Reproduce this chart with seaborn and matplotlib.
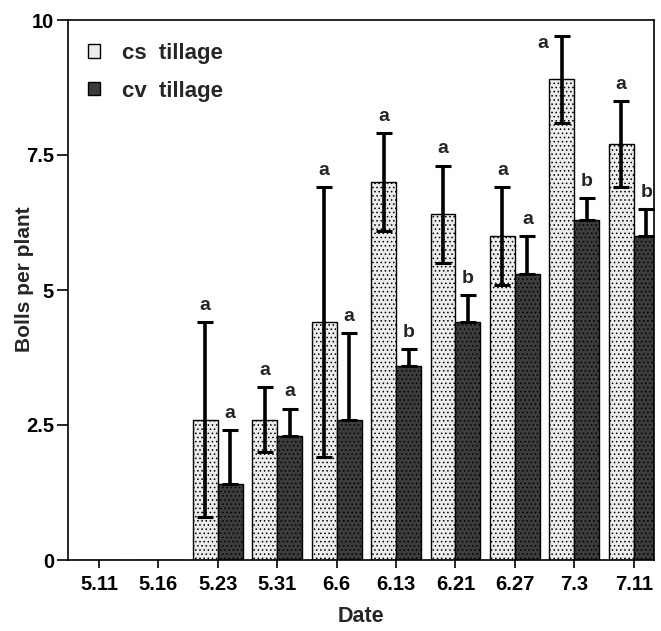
import seaborn as sns
import matplotlib.pyplot as plt
import pandas as pd

dates = ["5.11", "5.16", "5.23", "5.31", "6.6", "6.13", "6.21", "6.27", "7.3", "7.11"]
cs_mean = [0, 0, 2.6, 2.6, 4.4, 7.0, 6.4, 6.0, 8.9, 7.7]
cs_err = [0, 0, 1.8, 0.6, 2.5, 0.9, 0.9, 0.9, 0.8, 0.8]
cv_mean = [0, 0, 1.4, 2.3, 2.6, 3.6, 4.4, 5.3, 6.3, 6.0]
cv_err = [0, 0, 1.0, 0.5, 1.6, 0.3, 0.5, 0.7, 0.4, 0.5]
cs_letters = ["", "", "a", "a", "a", "a", "a", "a", "a", "a"]
cv_letters = ["", "", "a", "a", "a", "b", "b", "a", "b", "b"]
groups = ["cs  tillage", "cv  tillage"]

sns.set_theme(style="ticks")
plt.rcParams["font.family"] = ["Liberation Sans", "DejaVu Sans"]
plt.rcParams["font.weight"] = "bold"
plt.rcParams["hatch.linewidth"] = 0.6

df = pd.DataFrame({
    "date": dates * 2,
    "value": cs_mean + cv_mean,
    "tillage": [groups[0]] * len(dates) + [groups[1]] * len(dates),
})

fig = plt.figure(figsize=(6.61, 6.31), dpi=100)
ax = fig.add_axes([68 / 661, 71 / 631, 586 / 661, 540 / 631])

sns.barplot(data=df, x="date", y="value", hue="tillage", order=dates,
            hue_order=groups, palette=["#ececec", "#3c3c3c"], width=0.84,
            edgecolor="black", linewidth=1.0, ax=ax, errorbar=None)

for cont in ax.containers:
    for p in cont:
        p.set_hatch("....")

# error bars: cs both ways, cv upward only; letters above the caps
stats = [(cs_mean, cs_err, cs_letters, False), (cv_mean, cv_err, cv_letters, True)]
for cont, (means, errs, letters, up_only) in zip(ax.containers, stats):
    for p, m, e, lab in zip(cont, means, errs, letters):
        if m == 0:
            continue
        x = p.get_x() + p.get_width() / 2
        lower = 0 if up_only else e
        ax.errorbar(x, m, yerr=[[lower], [e]], fmt="none", ecolor="black",
                    elinewidth=2.6, capsize=5.5, capthick=2.2, zorder=5)
        if m + e > 9.3:
            # no room above: letter sits left of the cap
            ax.annotate(lab, (x, m + e), xytext=(-14, -5), textcoords="offset points",
                        ha="center", va="center", fontsize=14, fontweight="bold")
        else:
            ax.annotate(lab, (x, m + e), xytext=(0, 6), textcoords="offset points",
                        ha="center", va="bottom", fontsize=14, fontweight="bold")

ax.set_xlim(-0.52, 9.34)
ax.set_ylim(0, 10)
ax.set_yticks([0, 2.5, 5, 7.5, 10])
ax.set_yticklabels(["0", "2.5", "5", "7.5", "10"])
ax.tick_params(axis="both", labelsize=14.5, width=1.2, colors="black")
ax.tick_params(axis="y", length=8, pad=2)
ax.tick_params(axis="x", length=6, pad=5)
for lab in ax.get_xticklabels() + ax.get_yticklabels():
    lab.set_fontweight("bold")
for s in ax.spines.values():
    s.set_linewidth(1.2)
    s.set_color("black")

ax.set_xlabel("Date", fontsize=15.5, fontweight="bold")
ax.set_ylabel("Bolls per plant", fontsize=15, fontweight="bold")
ax.xaxis.set_label_coords(0.5, -0.085)
ax.yaxis.set_label_coords(-0.058, 0.52)

leg = ax.legend(loc="upper left", bbox_to_anchor=(0.015, 0.978), frameon=False,
                fontsize=16, handlelength=0.55, handleheight=0.55,
                handletextpad=1.0, borderaxespad=0, labelspacing=0.75,
                borderpad=0.5)
for t in leg.get_texts():
    t.set_fontweight("bold")

fig.savefig("out.png", dpi=100)
